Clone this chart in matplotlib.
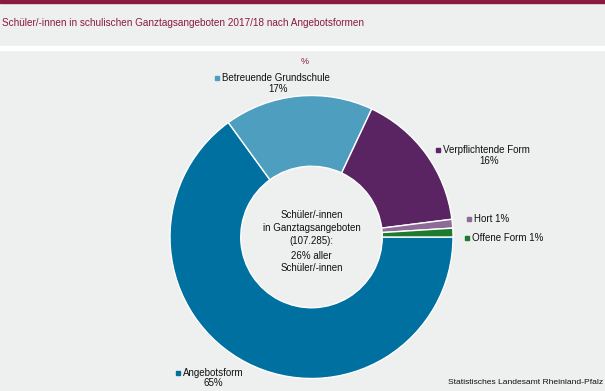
import matplotlib
matplotlib.use("Agg")
import matplotlib.pyplot as plt
from matplotlib.patches import Rectangle

categories = ["Angebotsform", "Betreuende Grundschule", "Verpflichtende Form", "Hort", "Offene Form"]
values = [65, 17, 16, 1, 1]
colors = ["#0070a0", "#4e9ebf", "#5a2362", "#8e6a96", "#1e7a2e"]

title = "Schüler/-innen in schulischen Ganztagsangeboten 2017/18 nach Angebotsformen"
center_lines = ["Schüler/-innen", "in Ganztagsangeboten", "(107.285):", "", "26% aller", "Schüler/-innen"]
source = "Statistisches Landesamt Rheinland-Pfalz"

W, H = 605, 391
BG = "#eeefef"
plt.rcParams['font.family'] = ['Liberation Sans', 'DejaVu Sans']

fig = plt.figure(figsize=(W / 100, H / 100), dpi=100, facecolor=BG)

def fx(x):
    return x / W

def fy(y):
    return 1 - y / H

# header decorations
fig.patches.append(Rectangle((0, fy(2.5)), 1, 2.5 / H, transform=fig.transFigure, color="#8b1a3e", zorder=0))
fig.patches.append(Rectangle((0, fy(50)), 1, 4 / H, transform=fig.transFigure, color="white", zorder=0))

fig.text(fx(2), fy(23), title, color="#8b1a3e", fontsize=7.2, va="center", ha="left")
fig.text(fx(305), fy(61), "%", color="#8b1a3e", fontsize=6.5, va="center", ha="center")

cx, cy, R = 311.5, 237, 141.5
half = 150
ax = fig.add_axes([fx(cx - half), fy(cy + half), 2 * half / W, 2 * half / H])
ax.pie(values, colors=colors, startangle=0, counterclock=False, radius=R,
       wedgeprops=dict(width=R * 0.5, edgecolor="white", linewidth=1.0))
ax.set_xlim(-half, half)
ax.set_ylim(-half, half)
ax.set_aspect("equal")
ax.axis("off")

# center text
ys = [215, 228, 241, 249, 256, 268]
for line, y in zip(center_lines, ys):
    if line:
        fig.text(fx(cx), fy(y), line, fontsize=7, ha="center", va="center", color="#111111")

# labels: (marker x, y, second line y or None, pct center x)
label_pos = {
    0: (178, 373, 383, 213),
    1: (217, 78, 89, 278),
    2: (438, 150, 161, 489),
    3: (469, 219, None, None),
    4: (467, 238, None, None),
}
for i, (mx, my, py, pcx) in label_pos.items():
    fig.patches.append(Rectangle((fx(mx - 2), fy(my + 2)), 4 / W, 4 / H,
                                 transform=fig.transFigure, color=colors[i]))
    if py is None:
        txt = f"{categories[i]} {values[i]}%"
        fig.text(fx(mx + 5), fy(my), txt, fontsize=7, ha="left", va="center", color="#111111")
    else:
        fig.text(fx(mx + 5), fy(my), categories[i], fontsize=7, ha="left", va="center", color="#111111")
        fig.text(fx(pcx), fy(py), f"{values[i]}%", fontsize=7, ha="center", va="center", color="#111111")

fig.text(fx(603), fy(383), source, fontsize=6.1, ha="right", va="center", color="#111111")

fig.savefig("out.png", dpi=100, facecolor=BG)
